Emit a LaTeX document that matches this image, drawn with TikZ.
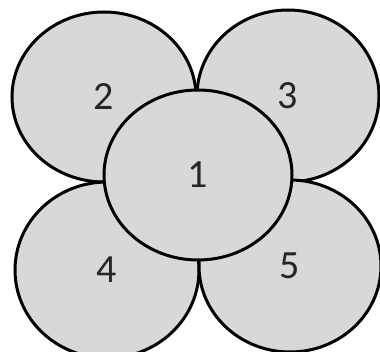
\documentclass[tikz,border=0pt]{standalone}
\usepackage{fontspec}
\setmainfont{Carlito}
\usetikzlibrary{shapes.geometric}
\definecolor{petalFill}{HTML}{D8D8D8}
\definecolor{petalText}{HTML}{262626}

\begin{document}
\begin{tikzpicture}[
    x=1pt, y=-1pt,
    petal/.style={
      ellipse, draw=black, line width=3pt,
      fill=petalFill, inner sep=0pt, text=petalText,
      font=\fontsize{40}{42}\selectfont
    }
  ]
  \useasboundingbox (0,0) rectangle (380,352);

  % outer petals
  \node[petal, minimum width=184pt, minimum height=170pt] (p2) at (104,97) {2};
  \node[petal, minimum width=182pt, minimum height=172pt] (p3) at (288,96) {3};
  \node[petal, minimum width=184pt, minimum height=176pt] (p4) at (107,270) {4};
  \node[petal, minimum width=182pt, minimum height=172pt] (p5) at (290,266) {5};

  % centre
  \node[petal, minimum width=188pt, minimum height=170pt] (p1) at (198,175) {1};
\end{tikzpicture}
\end{document}
